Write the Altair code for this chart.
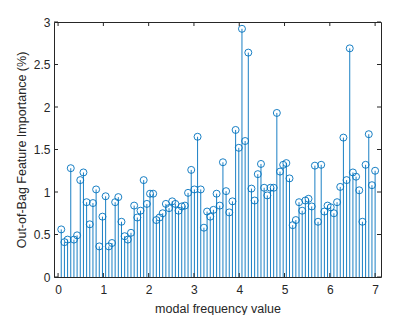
import altair as alt
import pandas as pd

freq = [0.07, 0.14, 0.21, 0.28, 0.35, 0.42, 0.49, 0.56, 0.63, 0.70,
        0.77, 0.84, 0.91, 0.98, 1.05, 1.12, 1.19, 1.26, 1.33, 1.40,
        1.47, 1.54, 1.61, 1.68, 1.75, 1.82, 1.89, 1.96, 2.03, 2.10,
        2.17, 2.24, 2.31, 2.38, 2.45, 2.52, 2.59, 2.66, 2.73, 2.80,
        2.87, 2.94, 3.01, 3.08, 3.15, 3.22, 3.29, 3.36, 3.43, 3.50,
        3.57, 3.64, 3.71, 3.78, 3.85, 3.92, 3.99, 4.06, 4.13, 4.20,
        4.27, 4.34, 4.41, 4.48, 4.55, 4.62, 4.69, 4.76, 4.83, 4.90,
        4.97, 5.04, 5.11, 5.18, 5.25, 5.32, 5.39, 5.46, 5.53, 5.60,
        5.67, 5.74, 5.81, 5.88, 5.95, 6.02, 6.09, 6.16, 6.23, 6.30,
        6.37, 6.44, 6.51, 6.58, 6.65, 6.72, 6.79, 6.86, 6.93, 7.00]

importance = [0.56, 0.41, 0.44, 1.28, 0.44, 0.49, 1.14, 1.23, 0.88, 0.62,
              0.87, 1.03, 0.36, 0.71, 0.95, 0.36, 0.40, 0.88, 0.94, 0.65,
              0.48, 0.44, 0.52, 0.84, 0.70, 0.78, 1.14, 0.86, 0.98, 0.98,
              0.67, 0.70, 0.75, 0.86, 0.81, 0.89, 0.86, 0.78, 0.83, 0.84,
              0.99, 1.26, 1.03, 1.65, 1.03, 0.58, 0.77, 0.71, 0.79, 0.98,
              0.84, 1.35, 1.01, 0.76, 0.89, 1.73, 1.52, 2.92, 1.60, 2.64,
              1.04, 0.90, 1.21, 1.33, 1.05, 0.96, 1.05, 1.05, 1.93, 1.24,
              1.32, 1.34, 1.16, 0.61, 0.67, 0.88, 0.78, 0.90, 0.92, 0.83,
              1.31, 0.65, 1.32, 0.77, 0.84, 0.82, 0.75, 0.88, 1.06, 1.64,
              1.14, 2.69, 1.23, 1.18, 1.02, 0.65, 1.32, 1.68, 1.08, 1.25]

x_ticks = [0, 1, 2, 3, 4, 5, 6, 7]
y_ticks = [0, 0.5, 1, 1.5, 2, 2.5, 3]

W, H = 327, 255
BLUE = "#0072BD"
AX = "#262626"

df = pd.DataFrame({"f": freq, "v": importance})
dfx = pd.DataFrame({"t": x_ticks})
dfy = pd.DataFrame({"t": y_ticks})

xs = alt.Scale(domain=[-0.09, 7.13], nice=False, zero=False)
ys = alt.Scale(domain=[0, 3], nice=False)

xaxis = alt.Axis(values=x_ticks, ticks=False, domain=False, grid=False,
                 labelPadding=7, titlePadding=7, format="d",
                 title="modal frequency value")
yaxis = alt.Axis(values=y_ticks, ticks=False, domain=False, grid=False,
                 labelPadding=4, titlePadding=5, format="~g",
                 title="Out-of-Bag Feature Importance (%)")

stems = alt.Chart(df).mark_rule(color=BLUE, strokeWidth=0.9).encode(
    x=alt.X("f:Q", scale=xs, axis=xaxis),
    y=alt.Y("v:Q", scale=ys, axis=yaxis),
    y2=alt.datum(0),
)

heads = alt.Chart(df).mark_point(shape="circle", filled=False, color=BLUE,
                                 size=49, strokeWidth=0.9, opacity=1).encode(
    x=alt.X("f:Q", scale=xs),
    y=alt.Y("v:Q", scale=ys),
)

tick_len = 4
xt_bottom = alt.Chart(dfx).mark_rule(color=AX, strokeWidth=1).encode(
    x=alt.X("t:Q", scale=xs), y=alt.value(H), y2=alt.value(H - tick_len))
xt_top = alt.Chart(dfx).mark_rule(color=AX, strokeWidth=1).encode(
    x=alt.X("t:Q", scale=xs), y=alt.value(0), y2=alt.value(tick_len))
yt_left = alt.Chart(dfy).mark_rule(color=AX, strokeWidth=1).encode(
    y=alt.Y("t:Q", scale=ys), x=alt.value(0), x2=alt.value(tick_len))
yt_right = alt.Chart(dfy).mark_rule(color=AX, strokeWidth=1).encode(
    y=alt.Y("t:Q", scale=ys), x=alt.value(W), x2=alt.value(W - tick_len))

chart = alt.layer(stems, heads, xt_bottom, xt_top, yt_left, yt_right).properties(
    width=W, height=H,
    autosize=alt.AutoSizeParams(type="none"),
    padding={"left": 46, "top": 14, "right": 10, "bottom": 38},
    background="white",
).configure_view(
    stroke=AX, strokeWidth=1
).configure_axis(
    labelFont="Liberation Sans", titleFont="Liberation Sans",
    labelFontSize=12, titleFontSize=12.5, labelColor=AX, titleColor=AX,
    titleFontWeight="normal",
)

chart.save("out.html", embed_options={"renderer": "svg", "actions": False})
